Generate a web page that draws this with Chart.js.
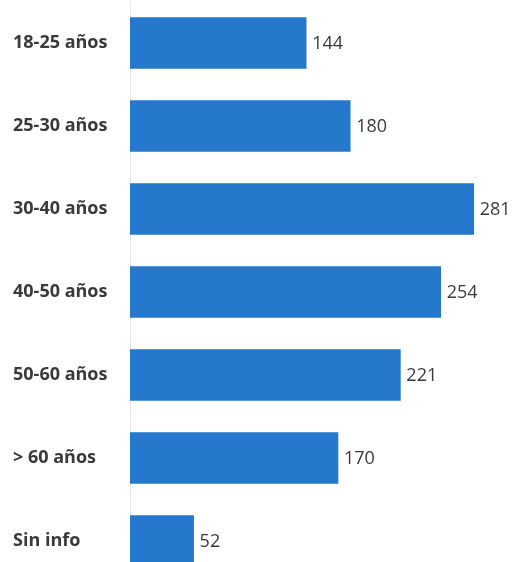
<!DOCTYPE html>
<html>
<head>
<meta charset="utf-8">
<script src="https://cdn.jsdelivr.net/npm/chart.js@4"></script>
<style>
  html, body { margin: 0; padding: 0; background: #fff; overflow: hidden; }
  #chart { display: block; }
</style>
</head>
<body>
<canvas id="chart" width="518" height="584"></canvas>
<script>
const categories = ['18-25 años', '25-30 años', '30-40 años', '40-50 años', '50-60 años', '> 60 años', 'Sin info'];
const counts = [144, 180, 281, 254, 221, 170, 52];

// draws the number just past the end of each bar
const valueLabels = {
  id: 'valueLabels',
  afterDatasetsDraw(chart) {
    const ctx = chart.ctx;
    const meta = chart.getDatasetMeta(0);
    ctx.save();
    ctx.font = '18px "Open Sans", sans-serif';
    ctx.fillStyle = '#3a3a3a';
    ctx.textAlign = 'left';
    ctx.textBaseline = 'middle';
    meta.data.forEach((bar, i) => {
      ctx.fillText(counts[i], bar.x + 6, bar.y + 1);
    });
    ctx.restore();
  }
};

const ctx = document.getElementById('chart').getContext('2d');
new Chart(ctx, {
  type: 'bar',
  data: {
    labels: categories,
    datasets: [{
      data: counts,
      backgroundColor: '#2578cc',
      barThickness: 51
    }]
  },
  options: {
    indexAxis: 'y',
    responsive: false,
    animation: false,
    devicePixelRatio: 1,
    layout: { padding: { top: 1.5, right: 21, left: 13, bottom: 1.5 } },
    plugins: { legend: { display: false }, tooltip: { enabled: false } },
    scales: {
      x: { display: false, min: 0, max: 300 },
      y: {
        afterFit(scale) {
          scale.width = 117;
          scale.paddingTop = 0;
          scale.paddingBottom = 0;
        },
        grid: { display: false, drawTicks: true, tickLength: 13 },
        border: { display: true, color: '#e6e6e6', width: 1 },
        ticks: {
          padding: 0,
          crossAlign: 'far',
          color: '#3a3a3a',
          font: { family: '"Open Sans", sans-serif', size: 18, weight: 'bold' }
        }
      }
    }
  },
  plugins: [valueLabels]
});
</script>
</body>
</html>
